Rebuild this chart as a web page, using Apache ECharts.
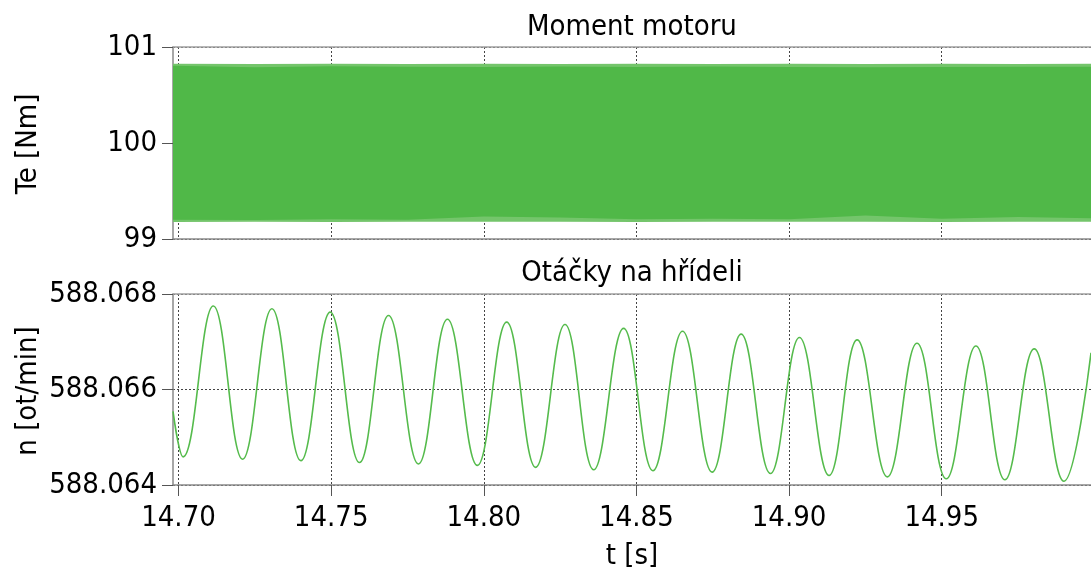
<!DOCTYPE html>
<html>
<head>
<meta charset="utf-8">
<title>Moment motoru / Otáčky na hřídeli</title>
<script src="https://cdn.jsdelivr.net/npm/echarts@6/dist/echarts.min.js"></script>
<style>
  html, body { margin: 0; padding: 0; background: #fff; }
  #chart { width: 1091px; height: 568px; }
</style>
</head>
<body>
<div id="chart"></div>
<script>
// x range and tick positions (s)
const tMin = 14.6982;
const tMax = 14.9989;
const xTicks = [14.70, 14.75, 14.80, 14.85, 14.90, 14.95];

// Te [Nm] - envelope of the fast ripple
const envT = [14.6982, 14.725, 14.75, 14.775, 14.80, 14.825, 14.85, 14.875, 14.90, 14.925, 14.95, 14.975, 14.9989];
const teOuterHigh = [100.825, 100.824, 100.825, 100.823, 100.825, 100.824, 100.825, 100.824, 100.825, 100.823, 100.825, 100.824, 100.825];
const teOuterLow = [99.178, 99.179, 99.178, 99.179, 99.180, 99.179, 99.178, 99.180, 99.179, 99.179, 99.178, 99.180, 99.179];
const teInnerHigh = [100.805, 100.790, 100.800, 100.795, 100.792, 100.797, 100.792, 100.797, 100.792, 100.788, 100.792, 100.795, 100.793];
const teInnerLow = [99.200, 99.198, 99.205, 99.200, 99.235, 99.225, 99.205, 99.212, 99.205, 99.245, 99.210, 99.228, 99.215];

// n [ot/min] - start, troughs / peaks, end
const nT = [14.6982, 14.7015, 14.7114, 14.7210, 14.7306, 14.7401, 14.7497, 14.7593, 14.7688, 14.7786, 14.7881,
  14.7979, 14.8075, 14.8170, 14.8266, 14.8360, 14.8458, 14.8554, 14.8651, 14.8748, 14.8843, 14.8939,
  14.9034, 14.9131, 14.9223, 14.9322, 14.9419, 14.9515, 14.9612, 14.9707, 14.9803, 14.9900, 14.9989];
const nVal = [588.06554, 588.06459, 588.06775, 588.06454, 588.06769, 588.06451, 588.06762, 588.06447, 588.06755, 588.06444, 588.06747,
  588.06441, 588.06741, 588.06437, 588.06736, 588.06432, 588.06728, 588.06430, 588.06722, 588.06427, 588.06716, 588.06424,
  588.06709, 588.06420, 588.06704, 588.06417, 588.06697, 588.06413, 588.06691, 588.06411, 588.06685, 588.06408, 588.06677];

const FONT = '"DejaVu Sans Condensed", "Noto Sans", "DejaVu Sans", sans-serif';
const FS = 29;
const GREEN = '#50b848';
const FRINGE = '#74c56b';

const gridLine = { show: true, lineStyle: { color: '#444', type: [2, 2], width: 1 } };
const axisLine = { show: true, lineStyle: { color: '#8a8a8a', width: 1.5 } };
const borderLine = { show: true, lineStyle: { color: '#a0a0a0', width: 1.5 } };
const tick = { show: true, length: 11, lineStyle: { color: '#555', width: 1 } };

// band between two envelopes, placed with the axis scales
function bandSeries(high, low, color) {
  return {
    type: 'custom', xAxisIndex: 0, yAxisIndex: 0,
    data: envT.map((t, i) => [t, high[i], low[i]]),
    encode: { x: 0, y: [1, 2] },
    renderItem: function (params, api) {
      if (params.dataIndex !== 0) return null;
      const top = envT.map((t, i) => api.coord([t, high[i]]));
      const bottom = envT.map((t, i) => api.coord([t, low[i]])).reverse();
      return {
        type: 'polygon',
        shape: { points: top.concat(bottom) },
        style: { fill: color }
      };
    }
  };
}

const chart = echarts.init(document.getElementById('chart'), null, { renderer: 'canvas' });

const option = {
  animation: false,
  backgroundColor: '#fff',
  textStyle: { fontFamily: FONT },
  grid: [
    { left: 173, right: 0, top: 47, height: 192 },
    { left: 173, right: 0, top: 294, height: 191 }
  ],
  xAxis: [
    {
      gridIndex: 0, type: 'value', min: tMin, max: tMax,
      axisLine: axisLine,
      axisTick: { show: false, customValues: xTicks },
      axisLabel: { show: false, customValues: xTicks },
      splitLine: gridLine
    },
    {
      gridIndex: 1, type: 'value', min: tMin, max: tMax,
      axisLine: axisLine,
      axisTick: Object.assign({ customValues: xTicks }, tick),
      axisLabel: {
        customValues: xTicks, margin: 19, color: '#000', fontSize: FS, fontFamily: FONT,
        formatter: v => v.toFixed(2)
      },
      splitLine: gridLine
    },
    // top borders of the two panels
    {
      gridIndex: 0, type: 'value', position: 'top', min: tMin, max: tMax,
      axisLine: borderLine, axisTick: { show: false }, axisLabel: { show: false }, splitLine: { show: false }
    },
    {
      gridIndex: 1, type: 'value', position: 'top', min: tMin, max: tMax,
      axisLine: borderLine, axisTick: { show: false }, axisLabel: { show: false }, splitLine: { show: false }
    }
  ],
  yAxis: [
    {
      gridIndex: 0, type: 'value', min: 99, max: 101, interval: 1,
      axisLine: axisLine, axisTick: tick,
      axisLabel: { margin: 16, color: '#000', fontSize: FS, fontFamily: FONT },
      splitLine: gridLine
    },
    {
      gridIndex: 1, type: 'value', min: 588.064, max: 588.068, interval: 0.002,
      axisLine: axisLine, axisTick: tick,
      axisLabel: {
        margin: 16, color: '#000', fontSize: FS, fontFamily: FONT,
        formatter: v => v.toFixed(3)
      },
      splitLine: gridLine
    }
  ],
  series: [
    // torque ripple: light fringe and dense core
    bandSeries(teOuterHigh, teOuterLow, FRINGE),
    bandSeries(teInnerHigh, teInnerLow, GREEN),
    // shaft speed
    {
      type: 'line', xAxisIndex: 1, yAxisIndex: 1, symbol: 'none', smooth: 0.42,
      data: nT.map((t, i) => [t, nVal[i]]),
      lineStyle: { color: '#55bb4c', width: 1.6 }
    }
  ],
  graphic: [
    { type: 'text', x: 632, y: 27, style: { text: 'Moment motoru', font: FS + 'px ' + FONT, fill: '#000', align: 'center', verticalAlign: 'middle' } },
    { type: 'text', x: 632, y: 273, style: { text: 'Otáčky na hřídeli', font: FS + 'px ' + FONT, fill: '#000', align: 'center', verticalAlign: 'middle' } },
    { type: 'text', x: 632, y: 556, style: { text: 't [s]', font: FS + 'px ' + FONT, fill: '#000', align: 'center', verticalAlign: 'middle' } },
    { type: 'text', x: 28, y: 144, rotation: Math.PI / 2, style: { text: 'Te [Nm]', font: FS + 'px ' + FONT, fill: '#000', align: 'center', verticalAlign: 'middle' } },
    { type: 'text', x: 28, y: 391, rotation: Math.PI / 2, style: { text: 'n [ot/min]', font: FS + 'px ' + FONT, fill: '#000', align: 'center', verticalAlign: 'middle' } }
  ]
};

chart.setOption(option);
</script>
</body>
</html>
